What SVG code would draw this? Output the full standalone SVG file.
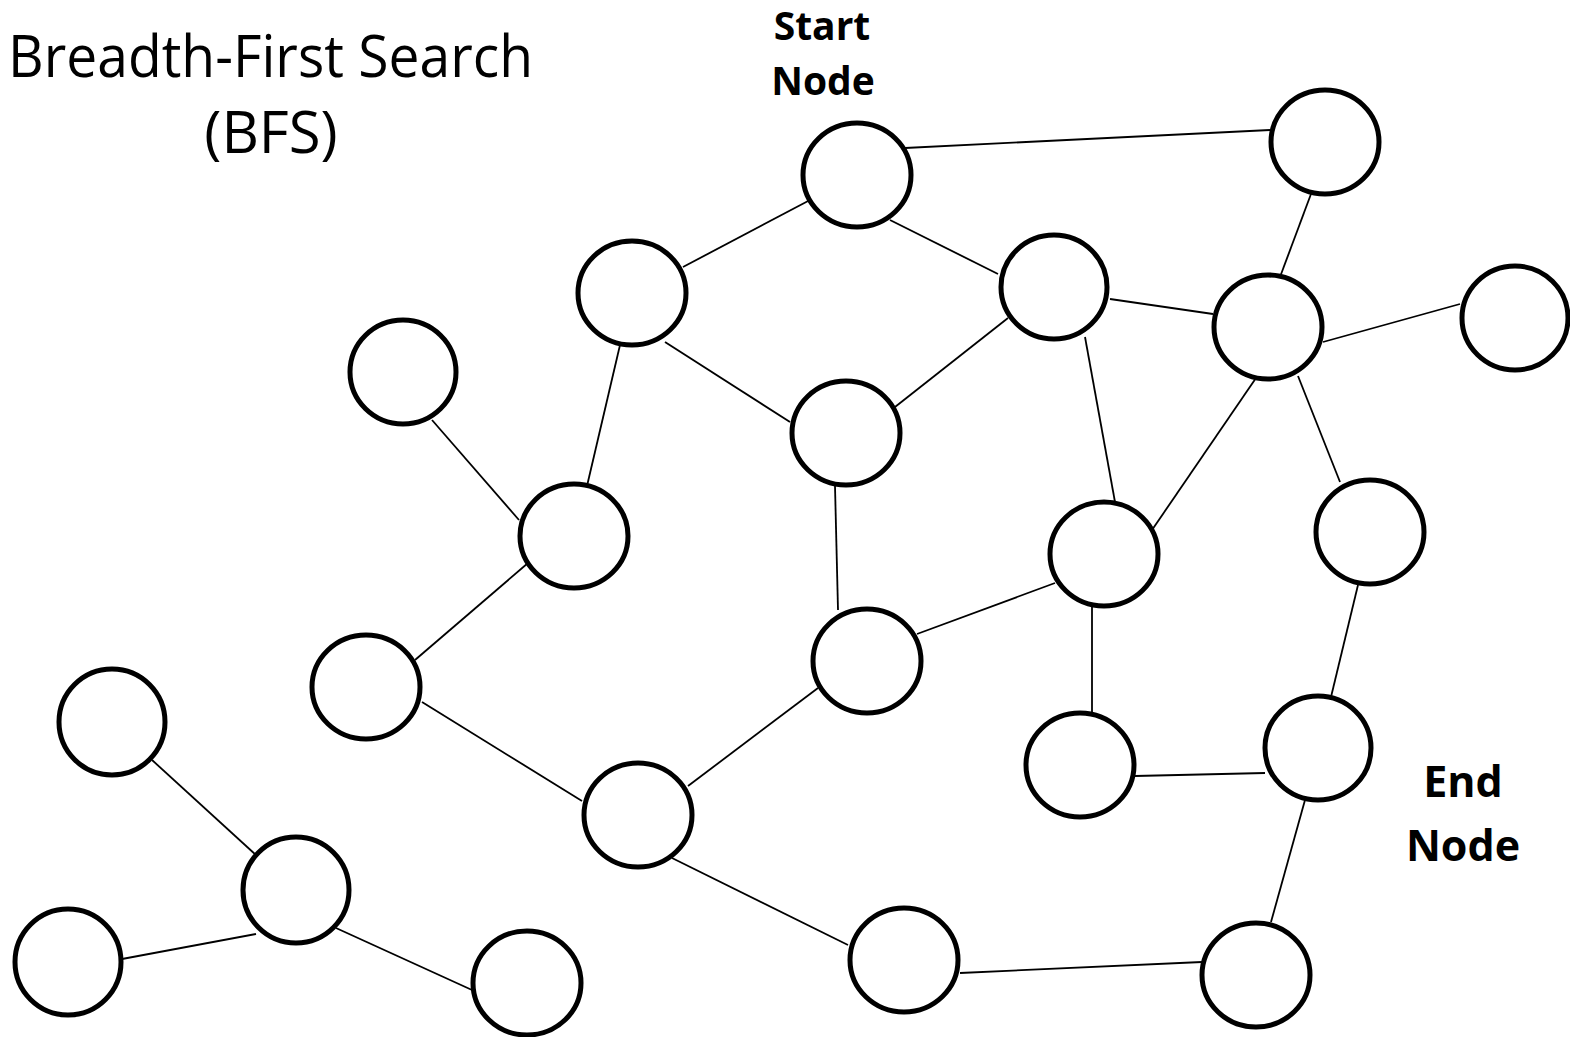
<svg xmlns="http://www.w3.org/2000/svg" width="1570" height="1037" viewBox="0 0 1570 1037">
  <style>
    .node { fill: #ffffff; stroke: #000000; stroke-width: 5; }
    .edge { stroke: #000000; stroke-width: 1.8; fill: none; }
    .title { font-family: "Open Sans", "Liberation Sans", sans-serif; font-size: 58px; fill: #000000; }
    .label { font-family: "Open Sans", "Liberation Sans", sans-serif; font-weight: bold; fill: #000000; text-anchor: middle; }
  </style>
  <rect width="1570" height="1037" fill="#ffffff"/>

  <!-- headings -->
  <text class="title" x="8" y="77" textLength="525" lengthAdjust="spacingAndGlyphs">Breadth-First Search</text>
  <text class="title" x="271" y="153" text-anchor="middle">(BFS)</text>
  <g id="start-label">
    <text class="label" x="822" y="40" font-size="39">Start</text>
    <text class="label" x="823" y="95" font-size="39">Node</text>
  </g>
  <g id="end-label">
    <text class="label" x="1463" y="797" font-size="43">End</text>
    <text class="label" x="1463" y="861" font-size="43">Node</text>
  </g>

  <!-- connectors -->
  <g id="edges">
    <line class="edge" x1="905" y1="148" x2="1270" y2="130"/>
    <line class="edge" x1="810" y1="200" x2="683" y2="267"/>
    <line class="edge" x1="890" y1="220" x2="998" y2="274"/>
    <line class="edge" x1="1311" y1="194" x2="1280" y2="277"/>
    <line class="edge" x1="665" y1="342" x2="790" y2="422"/>
    <line class="edge" x1="620" y1="345" x2="587" y2="486"/>
    <line class="edge" x1="1110" y1="299" x2="1213" y2="314"/>
    <line class="edge" x1="1008" y1="318" x2="895" y2="407"/>
    <line class="edge" x1="1085" y1="337" x2="1115" y2="502"/>
    <line class="edge" x1="1323" y1="342" x2="1460" y2="304"/>
    <line class="edge" x1="1256" y1="378" x2="1152" y2="530"/>
    <line class="edge" x1="1298" y1="376" x2="1340" y2="482"/>
    <line class="edge" x1="432" y1="420" x2="519" y2="520"/>
    <line class="edge" x1="835" y1="486" x2="838" y2="610"/>
    <line class="edge" x1="528" y1="563" x2="415" y2="660"/>
    <line class="edge" x1="1055" y1="583" x2="917" y2="634"/>
    <line class="edge" x1="1092" y1="607" x2="1092" y2="713"/>
    <line class="edge" x1="1358" y1="585" x2="1331" y2="697"/>
    <line class="edge" x1="818" y1="688" x2="688" y2="786"/>
    <line class="edge" x1="422" y1="702" x2="582" y2="801"/>
    <line class="edge" x1="152" y1="760" x2="256" y2="855"/>
    <line class="edge" x1="1135" y1="776" x2="1265" y2="773"/>
    <line class="edge" x1="1305" y1="800" x2="1271" y2="922"/>
    <line class="edge" x1="672" y1="858" x2="848" y2="945"/>
    <line class="edge" x1="122" y1="959" x2="256" y2="934"/>
    <line class="edge" x1="336" y1="928" x2="472" y2="990"/>
    <line class="edge" x1="960" y1="973" x2="1202" y2="962"/>
  </g>

  <!-- nodes -->
  <g id="n-start"><ellipse class="node" cx="857" cy="175" rx="54" ry="52"/></g>
  <g id="n-top-right"><ellipse class="node" cx="1325" cy="142" rx="54" ry="52"/></g>
  <g id="n-a"><ellipse class="node" cx="632" cy="293" rx="54" ry="52"/></g>
  <g id="n-b"><ellipse class="node" cx="1054" cy="287" rx="53" ry="52"/></g>
  <g id="n-c"><ellipse class="node" cx="1268" cy="327" rx="54" ry="52"/></g>
  <g id="n-far-right"><ellipse class="node" cx="1515" cy="318" rx="53" ry="52"/></g>
  <g id="n-d"><ellipse class="node" cx="403" cy="372" rx="53" ry="52"/></g>
  <g id="n-e"><ellipse class="node" cx="846" cy="433" rx="54" ry="52"/></g>
  <g id="n-f"><ellipse class="node" cx="574" cy="536" rx="54" ry="52"/></g>
  <g id="n-g"><ellipse class="node" cx="1104" cy="554" rx="54" ry="52"/></g>
  <g id="n-h"><ellipse class="node" cx="1370" cy="532" rx="54" ry="52"/></g>
  <g id="n-i"><ellipse class="node" cx="867" cy="661" rx="54" ry="52"/></g>
  <g id="n-j"><ellipse class="node" cx="366" cy="687" rx="54" ry="52"/></g>
  <g id="n-k"><ellipse class="node" cx="112" cy="722" rx="53" ry="53"/></g>
  <g id="n-l"><ellipse class="node" cx="1080" cy="765" rx="54" ry="52"/></g>
  <g id="n-end"><ellipse class="node" cx="1318" cy="748" rx="53" ry="52"/></g>
  <g id="n-m"><ellipse class="node" cx="638" cy="815" rx="54" ry="52"/></g>
  <g id="n-n"><ellipse class="node" cx="296" cy="890" rx="53" ry="53"/></g>
  <g id="n-o"><ellipse class="node" cx="68" cy="962" rx="53" ry="53"/></g>
  <g id="n-p"><ellipse class="node" cx="527" cy="983" rx="54" ry="52"/></g>
  <g id="n-q"><ellipse class="node" cx="904" cy="960" rx="54" ry="52"/></g>
  <g id="n-r"><ellipse class="node" cx="1256" cy="975" rx="54" ry="52"/></g>
</svg>
